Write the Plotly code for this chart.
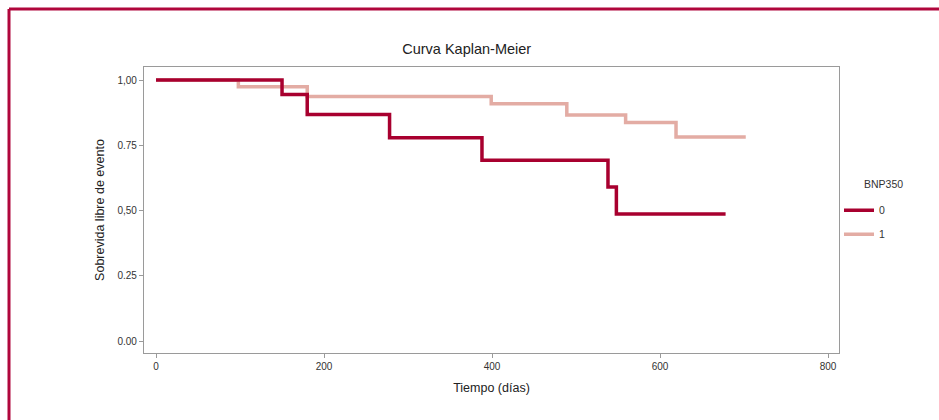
import plotly.graph_objects as go

# Group BNP350 = 0
time_0 = [0, 150, 180, 278, 388, 538, 548, 678]
surv_0 = [1.0, 0.945, 0.868, 0.779, 0.693, 0.59, 0.487, 0.487]
# Group BNP350 = 1
time_1 = [0, 98, 180, 399, 489, 559, 619, 702]
surv_1 = [1.0, 0.974, 0.937, 0.909, 0.866, 0.837, 0.782, 0.782]

x_ticks = [0, 200, 400, 600, 800]
y_ticks = [0.0, 0.25, 0.5, 0.75, 1.0]
y_tick_labels = ["0.00", "0.25", "0,50", "0.75", "1,00"]

DARK = "#A8002F"
LIGHT = "#E3ACA4"
FRAME = "#B0063C"
FONT = "Liberation Sans"

fig = go.Figure()
fig.add_trace(go.Scatter(x=time_1, y=surv_1, mode="lines", name="1", legendgroup="g1",
                         line=dict(color=LIGHT, width=3.5, shape="hv"),
                         legendrank=2))
fig.add_trace(go.Scatter(x=time_0, y=surv_0, mode="lines", name="0", legendgroup="g0",
                         line=dict(color=DARK, width=3.5, shape="hv"),
                         legendrank=1))

axis_common = dict(showline=True, mirror=True, linecolor="#9a9a9a", linewidth=1.3,
                   ticks="outside", ticklen=4, tickcolor="#9a9a9a",
                   showgrid=False, zeroline=False,
                   tickfont=dict(family=FONT, size=10, color="#333333"))

fx = (9 - 144) / 695
fy = (353 - 9) / 286

fig.update_layout(
    width=939, height=420,
    margin=dict(l=144, r=100, t=67, b=67),
    paper_bgcolor="white", plot_bgcolor="white",
    font=dict(family=FONT, color="#222222"),
    title=dict(text="Curva Kaplan-Meier", x=0.497, xanchor="center", y=0.883, yanchor="middle",
               font=dict(family=FONT, size=14.5, color="#222222")),
    xaxis=dict(range=[-14.3, 813], tickvals=x_ticks,
               title=dict(text="Tiempo (días)", font=dict(family=FONT, size=12.5, color="#222222"), standoff=12),
               **axis_common),
    yaxis=dict(range=[-0.046, 1.05], tickvals=y_ticks, ticktext=y_tick_labels,
               title=dict(text="Sobrevida libre de evento", font=dict(family=FONT, size=12.5, color="#222222"), standoff=10),
               **axis_common),
    legend=dict(x=1.0, xanchor="left", y=0.55, yanchor="top",
                font=dict(family=FONT, size=10.5, color="#333333"),
                itemwidth=30, tracegroupgap=5, bgcolor="rgba(0,0,0,0)"),
    annotations=[dict(text="BNP350", xref="paper", yref="paper",
                      x=(862 - 144) / 695, xanchor="left",
                      y=(353 - 184) / 286, yanchor="middle", showarrow=False,
                      font=dict(family=FONT, size=10.5, color="#333333"))],
    shapes=[
        dict(type="line", xref="paper", yref="paper", x0=fx, x1=1.2, y0=fy, y1=fy,
             line=dict(color=FRAME, width=3), layer="below"),
        dict(type="line", xref="paper", yref="paper", x0=fx, x1=fx, y0=fy, y1=-0.4,
             line=dict(color=FRAME, width=3), layer="below"),
    ],
)

fig.write_html("out.html", config={"displayModeBar": False},
               post_script="document.body.style.margin='0px';")
